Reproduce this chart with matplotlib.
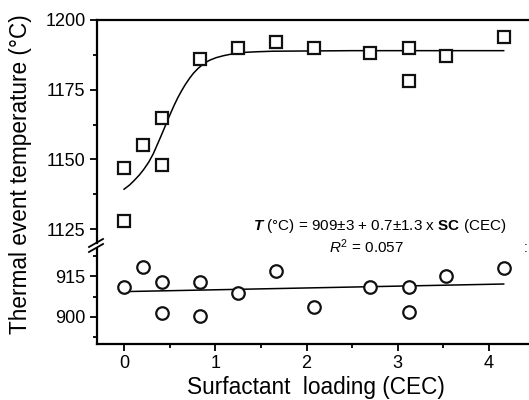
import matplotlib
matplotlib.use("Agg")
import matplotlib.pyplot as plt
from matplotlib.lines import Line2D
from matplotlib.ticker import MultipleLocator, FixedLocator

plt.rcParams['font.family'] = ['Liberation Sans', 'DejaVu Sans']
plt.rcParams['mathtext.fontset'] = 'custom'
plt.rcParams['mathtext.rm'] = 'Liberation Sans'
plt.rcParams['mathtext.it'] = 'Liberation Sans:italic'
plt.rcParams['mathtext.bf'] = 'Liberation Sans:bold'
try:
    plt.rcParams['mathtext.bfit'] = 'Liberation Sans:bold:italic'
except KeyError:
    pass

# ---- data ----
sq_x = [0, 0, 0.21, 0.42, 0.42, 0.83, 1.25, 1.66, 2.08, 2.70, 3.12, 3.12, 3.53, 4.16]
sq_y = [1147, 1128, 1155, 1165, 1148, 1186, 1190, 1192, 1190, 1188, 1190, 1178, 1187, 1194]

circ_x = [0, 0.21, 0.42, 0.42, 0.83, 0.83, 1.25, 1.66, 2.08, 2.70, 3.12, 3.12, 3.53, 4.16]
circ_y = [911, 918.4, 912.7, 901.3, 912.7, 900.5, 908.7, 916.8, 903.8, 911.1, 911.1, 901.7, 915, 918]

fit_up_x = [0, 0.06, 0.11, 0.17, 0.22, 0.27, 0.32, 0.36, 0.40, 0.44, 0.48, 0.52, 0.55, 0.59,
            0.63, 0.67, 0.72, 0.76, 0.81, 0.85, 0.89, 0.94, 1.01, 1.09, 1.18, 1.27, 1.45,
            1.63, 2.5, 4.16]
fit_up_y = [1139.3, 1140.8, 1142.4, 1144.5, 1146.6, 1149.0, 1152.0, 1155.0, 1158.0, 1161.1,
            1164.3, 1167.3, 1169.5, 1172.2, 1174.6, 1176.8, 1179.2, 1180.9, 1182.6, 1183.7,
            1184.7, 1185.6, 1186.5, 1187.2, 1187.8, 1188.3, 1188.6, 1188.8, 1189, 1189]

fit_lo_x = [0, 4.16]
fit_lo_y = [909.3, 912.1]

x_ticks = [0, 1, 2, 3, 4]
y_ticks_up = [1125, 1150, 1175, 1200]
y_ticks_lo = [900, 915]

W, H = 529, 400
fig = plt.figure(figsize=(W / 100, H / 100), dpi=100)

left = 96.7 / W
width = 4.8 * 91.25 / W
ax_up = fig.add_axes([left, 1 - 243 / H, width, (243 - 20) / H])
ax_lo = fig.add_axes([left, 1 - 344 / H, width, (344 - 249) / H])

for ax in (ax_up, ax_lo):
    ax.set_xlim(-0.3, 4.5)
    ax.spines['right'].set_visible(False)
    for s in ax.spines.values():
        s.set_linewidth(1.6)
    ax.tick_params(direction='out', which='major', length=5, width=1.3, labelsize=13, pad=3)
    ax.tick_params(direction='out', which='minor', length=3, width=1.3)
    ax.patch.set_visible(False)

ax_up.set_ylim(1120, 1200)
ax_up.spines['bottom'].set_visible(False)
ax_up.tick_params(axis='x', which='both', bottom=False, labelbottom=False)
ax_up.yaxis.set_major_locator(FixedLocator(y_ticks_up))
ax_up.yaxis.set_minor_locator(FixedLocator([1137.5, 1162.5, 1187.5]))

ax_lo.set_ylim(890, 925)
ax_lo.spines['top'].set_visible(False)
ax_lo.yaxis.set_major_locator(FixedLocator(y_ticks_lo))
ax_lo.yaxis.set_minor_locator(FixedLocator([892.5, 907.5, 922.5]))
ax_lo.xaxis.set_major_locator(FixedLocator(x_ticks))
ax_lo.xaxis.set_minor_locator(MultipleLocator(0.5))

ax_up.plot(fit_up_x, fit_up_y, color='black', lw=1.1, zorder=2)
ax_up.plot(sq_x, sq_y, linestyle='none', marker='s', markersize=8, markerfacecolor='white',
           markeredgecolor='#111111', markeredgewidth=1.6, zorder=3, clip_on=False)

ax_lo.plot(fit_lo_x, fit_lo_y, color='black', lw=1.1, zorder=2)
ax_lo.plot(circ_x, circ_y, linestyle='none', marker='o', markersize=9, markerfacecolor='white',
           markeredgecolor='#111111', markeredgewidth=1.6, zorder=3, clip_on=False)

# axis break marks
for dy in (0, 5):
    fig.add_artist(Line2D([89 / W, 103 / W], [1 - (252 - dy) / H, 1 - (244 - dy) / H],
                          color='black', lw=1.3))

ax_lo.set_xlabel('Surfactant  loading (CEC)', fontsize=16.3, labelpad=3)
fig.text(21 / W, 1 - 174 / H, 'Thermal event temperature (°C)', rotation=90,
         fontsize=16.3, ha='center', va='center')

fig.text(380 / W, 1 - 226 / H,
         r'$\mathbfit{T}$ (°C) = 909$\pm$3 + 0.7$\pm$1.3 x $\mathbf{SC}$ (CEC)',
         fontsize=11, ha='center', va='center')
fig.text(366 / W, 1 - 247 / H, r'$R^2$ = 0.057', fontsize=11, ha='center', va='center')
fig.text(526 / W, 1 - 248 / H, ':', fontsize=10, ha='center', va='center')

fig.savefig('out.png', dpi=100)
